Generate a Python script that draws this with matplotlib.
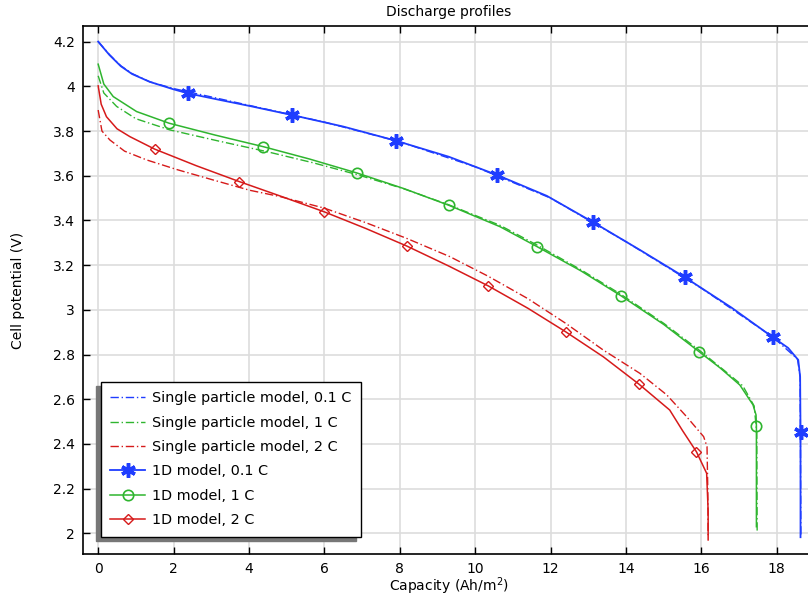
import numpy as np
from matplotlib import pyplot as plt

# 1D model, 0.1 C (markers at the listed indices)
x_1d_01 = [0, 0.3, 0.6, 0.9, 1.37, 1.99, 2.37, 3.2, 4.02, 5.13, 6.5, 7.89, 9.3, 10.57, 11.9,
           13.13, 14.4, 15.56, 16.8, 17.9, 18.3, 18.57, 18.62, 18.63, 18.63]
y_1d_01 = [4.20, 4.14, 4.09, 4.055, 4.02, 3.987, 3.969, 3.94, 3.912, 3.872, 3.82, 3.757, 3.685, 3.604, 3.51,
           3.392, 3.265, 3.146, 3.01, 2.877, 2.83, 2.776, 2.70, 2.455, 1.983]
mk_1d_01 = [6, 9, 11, 13, 15, 17, 19, 23]

# Single particle model, 0.1 C
x_sp_01 = [0, 0.3, 0.6, 0.9, 1.37, 2.0, 4.0, 6.0, 8.0, 10.0, 12.0, 14.0, 16.0, 17.9, 18.55, 18.62, 18.64]
y_sp_01 = [4.20, 4.142, 4.092, 4.057, 4.02, 3.99, 3.915, 3.84, 3.752, 3.64, 3.50, 3.305, 3.097, 2.878, 2.78,
           2.70, 1.99]

# 1D model, 1 C
x_1d_1 = [0, 0.15, 0.4, 1.02, 1.88, 3.1, 4.38, 5.6, 6.87, 8.1, 9.30, 10.66, 11.64, 12.8,
          13.86, 15.0, 15.94, 16.5, 17.02, 17.37, 17.45, 17.46, 17.46]
y_1d_1 = [4.099, 4.01, 3.954, 3.887, 3.835, 3.782, 3.730, 3.675, 3.612, 3.543, 3.468, 3.372, 3.283, 3.175,
          3.064, 2.935, 2.813, 2.74, 2.664, 2.575, 2.53, 2.481, 2.03]
mk_1d_1 = [4, 6, 8, 10, 12, 14, 16, 21]

# Single particle model, 1 C
x_sp_1 = [0, 0.15, 0.49, 1.0, 1.9, 3.2, 4.47, 5.7, 6.87, 8.1, 9.3, 10.66, 11.64, 12.8,
          13.86, 15.0, 15.94, 16.6, 17.1, 17.4, 17.47, 17.48]
y_sp_1 = [4.047, 3.97, 3.91, 3.855, 3.805, 3.755, 3.708, 3.658, 3.605, 3.542, 3.47, 3.378, 3.29, 3.18,
          3.07, 2.94, 2.82, 2.73, 2.66, 2.57, 2.45, 2.0]

# 1D model, 2 C
x_1d_2 = [0, 0.08, 0.22, 0.5, 0.84, 1.5, 2.6, 3.74, 4.9, 5.99, 7.1, 8.18, 9.3, 10.35, 11.4,
          12.4, 13.4, 14.35, 15.16, 15.5, 15.87, 16.14, 16.18, 16.18]
y_1d_2 = [4.002, 3.92, 3.864, 3.81, 3.775, 3.719, 3.645, 3.574, 3.505, 3.439, 3.364, 3.286, 3.196, 3.107, 3.007,
          2.902, 2.79, 2.667, 2.552, 2.46, 2.365, 2.269, 2.10, 1.971]
mk_1d_2 = [5, 7, 9, 11, 13, 15, 17, 20]

# Single particle model, 2 C
x_sp_2 = [0, 0.1, 0.31, 0.7, 1.28, 2.1, 3.05, 4.02, 4.82, 6.0, 7.1, 8.18, 9.33, 10.35, 11.4,
          12.4, 13.4, 14.37, 15.08, 15.61, 16.06, 16.15, 16.17, 16.18]
y_sp_2 = [3.894, 3.80, 3.76, 3.71, 3.671, 3.627, 3.581, 3.535, 3.507, 3.455, 3.39, 3.320, 3.238, 3.15, 3.05,
          2.94, 2.82, 2.716, 2.62, 2.522, 2.433, 2.388, 2.20, 1.98]

blue = '#1f3dff'
green = '#2fb52f'
red = '#d61a1a'

plt.rcParams['font.family'] = 'DejaVu Sans'
plt.rcParams['font.size'] = 10

fig = plt.figure(figsize=(8.08, 5.98), dpi=100)
ax = fig.add_axes([0.1033, 0.0736, 0.9047, 0.883])

dashdot = (0, (6, 2, 1, 2))
ax.plot(x_sp_01, y_sp_01, color=blue, lw=1.0, ls=dashdot, label='Single particle model, 0.1 C')
ax.plot(x_sp_1, y_sp_1, color=green, lw=1.0, ls=dashdot, label='Single particle model, 1 C')
ax.plot(x_sp_2, y_sp_2, color=red, lw=1.0, ls=dashdot, label='Single particle model, 2 C')
ax.plot(x_1d_01, y_1d_01, color=blue, lw=1.3, marker=(6, 2, 0), ms=10.5, mew=2.5,
        markevery=mk_1d_01, label='1D model, 0.1 C')
ax.plot(x_1d_1, y_1d_1, color=green, lw=1.1, marker='o', ms=7.5, mfc='none', mew=1.2,
        markevery=mk_1d_1, label='1D model, 1 C')
ax.plot(x_1d_2, y_1d_2, color=red, lw=1.1, marker='D', ms=5, mfc='none', mew=1.0,
        markevery=mk_1d_2, label='1D model, 2 C')

ax.set_xlim(-0.39, 19.0)
ax.set_ylim(1.908, 4.27)
ax.set_xticks(np.arange(0, 19, 2))
ax.set_yticks(np.arange(2.0, 4.21, 0.2))
ax.set_yticklabels(['2', '2.2', '2.4', '2.6', '2.8', '3', '3.2', '3.4', '3.6', '3.8', '4', '4.2'])
ax.grid(True, color='#dddddd', lw=1.2)
ax.set_axisbelow(True)
ax.tick_params(direction='in', length=5, width=1, top=True, right=False, pad=6)
for s in ['left', 'top', 'bottom']:
    ax.spines[s].set_linewidth(1.2)
ax.spines['right'].set_visible(False)

ax.set_title('Discharge profiles', fontsize=10, pad=7)
ax.set_xlabel('Capacity (Ah/m$^2$)', labelpad=-1)
ax.set_ylabel('Cell potential (V)', labelpad=20)

leg = ax.legend(loc='lower left', numpoints=1, fancybox=False, framealpha=1,
                edgecolor='black', borderaxespad=1.2, handlelength=2.4, handletextpad=0.5,
                labelspacing=0.72, borderpad=0.65, prop={'size': 10.4},
                shadow={'ox': -3.6, 'oy': -3, 'color': '#777777', 'alpha': 1})
leg.get_frame().set_linewidth(1.0)

plt.savefig('out.png', dpi=100)
